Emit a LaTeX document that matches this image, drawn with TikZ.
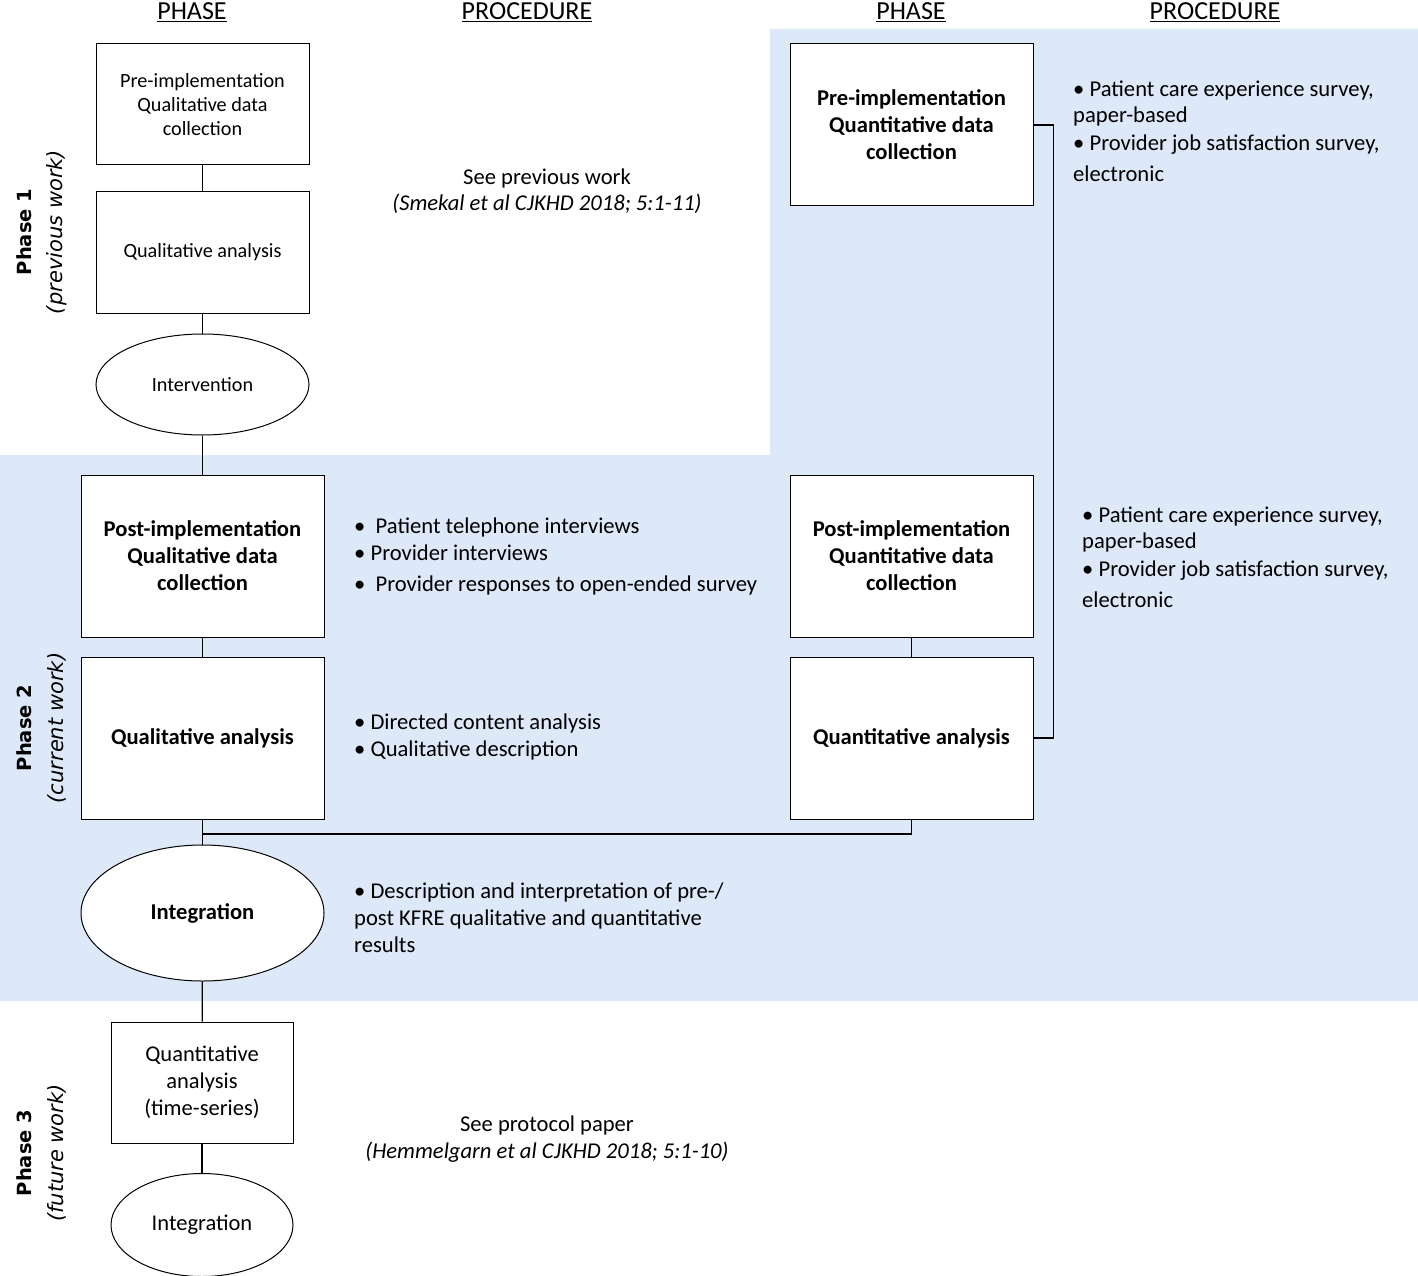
\documentclass[tikz,border=0pt]{standalone}
\usepackage{fontspec}
\setmainfont{Carlito}
\newfontfamily\phasefont{DejaVu Sans}
\usetikzlibrary{shapes.geometric}
\definecolor{phasebg}{RGB}{221,232,248}
\begin{document}
\begin{tikzpicture}[x=1pt, y=-1pt, font=\fontsize{20.2}{24}\selectfont,
    box/.style={draw, fill=white, line width=1pt, align=center, inner sep=2pt},
    oval/.style={ellipse, draw, fill=white, line width=1pt, inner sep=0pt, align=center},
    bold/.style={font=\fontsize{22.6}{27}\selectfont\bfseries},
    link/.style={line width=1.2pt},
    proc/.style={font=\fontsize{22.6}{27}\selectfont, inner sep=0pt, anchor=base west},
    note/.style={font=\fontsize{22.6}{27}\selectfont, inner sep=0pt, anchor=base},
    head/.style={font=\fontsize{26}{30}\selectfont, inner sep=0pt, anchor=base},
    phase/.style={rotate=90, inner sep=0pt}]
    \useasboundingbox (0,0) rectangle (1418,1276);
    % background of phase 2
    \fill[phasebg] (0,455) -| (770,29) -| (1418,1001) -| (0,455) -- cycle;

    % headings
    \node[head] (hphase) at (192,20) {\underline{PHASE}};
    \node[head] (hproc) at (527,20) {\underline{PROCEDURE}};
    \node[head] (hphaseq) at (911,20) {\underline{PHASE}};
    \node[head] (hprocq) at (1215,20) {\underline{PROCEDURE}};

    % phase labels
    \node[phase, font=\fontsize{19.5}{23}\selectfont\phasefont\bfseries] (p1) at (24,232) {Phase 1};
    \node[phase, font=\fontsize{21}{23}\selectfont\phasefont\itshape] (p1w) at (57,232) {(previous work)};
    \node[phase, font=\fontsize{19.5}{23}\selectfont\phasefont\bfseries] (p2) at (24,728) {Phase 2};
    \node[phase, font=\fontsize{21}{23}\selectfont\phasefont\itshape] (p2w) at (57,728) {(current work)};
    \node[phase, font=\fontsize{19.5}{23}\selectfont\phasefont\bfseries] (p3) at (24,1153) {Phase 3};
    \node[phase, font=\fontsize{21}{23}\selectfont\phasefont\itshape] (p3w) at (57,1153) {(future work)};

    % qualitative strand
    \node[box, minimum width=213, minimum height=121] (qualpre) at (202.5,104.5) {Pre-implementation\\Qualitative data\\collection};
    \node[box, minimum width=213, minimum height=121] (qualanpre) at (202.5,252.5) {Qualitative analysis};
    \node[oval, minimum width=213, minimum height=101] (intervention) at (202.5,384.5) {Intervention};
    \node[box, bold, minimum width=243, minimum height=162] (qualpost) at (202.5,556) {Post-implementation\\Qualitative data\\collection};
    \node[box, bold, minimum width=243, minimum height=162] (qualanpost) at (202.5,738) {Qualitative analysis};
    \node[oval, bold, minimum width=243, minimum height=136] (integration) at (202.5,913) {Integration};
    \node[box, font=\fontsize{22.5}{27}\selectfont, minimum width=182, minimum height=121] (timeseries) at (202,1082.5) {Quantitative\\analysis\\(time-series)};
    \node[oval, font=\fontsize{22.5}{27}\selectfont, minimum width=182, minimum height=103] (integrationfut) at (202,1225) {Integration};

    % quantitative strand
    \node[box, bold, minimum width=243, minimum height=162] (quantpre) at (911.5,125) {Pre-implementation\\Quantitative data\\collection};
    \node[box, bold, minimum width=243, minimum height=162] (quantpost) at (911.5,556) {Post-implementation\\Quantitative data\\collection};
    \node[box, bold, minimum width=243, minimum height=162] (quantan) at (911.5,738) {Quantitative analysis};

    % connectors
    \draw[link] (qualpre) -- (qualanpre);
    \draw[link] (qualanpre) -- (intervention);
    \draw[link] (intervention) -- (qualpost);
    \draw[link] (qualpost) -- (qualanpost);
    \draw[link] (qualanpost) -- (integration);
    \draw[link] (integration) -- (timeseries);
    \draw[link] (timeseries) -- (integrationfut);
    \draw[link] (quantpost) -- (quantan);
    \draw[link] (quantpre.east) -- ++(20,0) |- (quantan.east);
    \coordinate (merge) at (202.5,834);
    \draw[link] (quantan.south) |- (merge);

    % procedures
    \node[note] (prevwork) at (547,185) {See previous work};
    \node[note] (prevref) at (547,211) {\itshape (Smekal et al CJKHD 2018; 5:1-11)};
    \node[note] (protwork) at (547,1131) {See protocol paper};
    \node[note] (protref) at (547,1158) {\itshape (Hemmelgarn et al CJKHD 2018; 5:1-10)};

    \foreach \y/\t in {533/{\textbullet\ \ Patient telephone interviews},
                       560/{\textbullet\ Provider interviews},
                       591/{\textbullet\ \ Provider responses to open-ended survey},
                       729/{\textbullet\ Directed content analysis},
                       756/{\textbullet\ Qualitative description},
                       898/{\textbullet\ Description and interpretation of pre-/},
                       925/{post KFRE qualitative and quantitative},
                       952/{results}} {
      \node[proc] (qp\y) at (354,\y) {\t};
    }
    \foreach \y/\t in {97/{\textbullet\ Patient care experience survey,},
                       123/{paper-based},
                       151/{\textbullet\ Provider job satisfaction survey,},
                       182/{electronic}} {
      \node[proc] (np\y) at (1073,\y) {\t};
      \node[proc] (mp\y) at (1082,\y+425) {\t};
    }
\end{tikzpicture}
\end{document}
